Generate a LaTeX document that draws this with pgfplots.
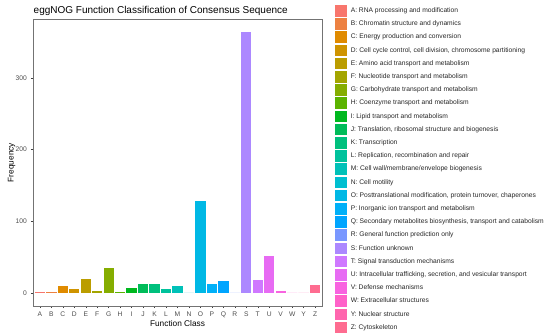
\documentclass[border=0pt]{standalone}
\usepackage{fontspec}
\setmainfont{Liberation Sans}
\usepackage{pgfplots}
\pgfplotsset{compat=1.18}
\definecolor{cA}{HTML}{F8766D}
\definecolor{cB}{HTML}{ED8141}
\definecolor{cC}{HTML}{E08B00}
\definecolor{cD}{HTML}{CF9400}
\definecolor{cE}{HTML}{BB9D00}
\definecolor{cF}{HTML}{A3A500}
\definecolor{cG}{HTML}{85AD00}
\definecolor{cH}{HTML}{5BB300}
\definecolor{cI}{HTML}{00B81F}
\definecolor{cJ}{HTML}{00BC59}
\definecolor{cK}{HTML}{00C07D}
\definecolor{cL}{HTML}{00C29C}
\definecolor{cM}{HTML}{00C1B8}
\definecolor{cN}{HTML}{00BFD0}
\definecolor{cO}{HTML}{00B8E5}
\definecolor{cP}{HTML}{00B0F8}
\definecolor{cQ}{HTML}{00A5FF}
\definecolor{cR}{HTML}{7997FF}
\definecolor{cS}{HTML}{AC88FF}
\definecolor{cT}{HTML}{CF78FF}
\definecolor{cU}{HTML}{E76BF3}
\definecolor{cV}{HTML}{F863E0}
\definecolor{cW}{HTML}{FF61C9}
\definecolor{cY}{HTML}{FF65AE}
\definecolor{cZ}{HTML}{FE6C90}
\definecolor{gtxt}{HTML}{4D4D4D}
\pgfplotsset{
  mybar/.style={ybar, bar width=0.9, bar shift=0pt, fill=#1, draw=none,
    legend image code/.code={\fill[fill=#1] (0pt,-5.8pt) rectangle (11.8pt,5.8pt);}}
}
\begin{document}
\begin{tikzpicture}
\path[use as bounding box] (0,0) rectangle (550pt,336pt);
\begin{axis}[
  at={(33pt,30pt)}, anchor=south west,
  scale only axis, width=289pt, height=287pt,
  xmin=-0.6, xmax=24.6, ymin=-18.2, ymax=382.2,
  enlargelimits=false,
  axis line style={draw=black!55, line width=0.6pt},
  xtick={0,...,24},
  xticklabels={A,B,C,D,E,F,G,H,I,J,K,L,M,N,O,P,Q,R,S,T,U,V,W,Y,Z},
  ytick={0,100,200,300},
  tick align=outside, xtick pos=bottom, ytick pos=left,
  major tick length=2.1pt,
  tick style={draw=black!75, line width=0.4pt},
  /pgf/number format/assume math mode=true,
  tick label style={font=\fontsize{6.7}{7}\selectfont, text=gtxt, inner sep=0pt},
  xticklabel style={anchor=north, yshift=-3.8pt},
  yticklabel style={anchor=east, xshift=-3.9pt},
  title={eggNOG Function Classification of Consensus Sequence},
  title style={at={(0,1)}, anchor=base west, yshift=-0.5pt, xshift=0.5pt, inner sep=0pt, font=\fontsize{10}{12}\selectfont},
  xlabel={Function Class},
  ylabel={Frequency},
  label style={font=\fontsize{8.3}{10}\selectfont},
  xlabel style={at={(axis description cs:0.5,-0.0603)}, anchor=center, inner sep=0pt},
  ylabel style={at={(axis description cs:-0.0737,0.5)}, anchor=center, inner sep=0pt},
  legend style={at={(1,1)}, anchor=north west, xshift=13pt, yshift=14pt,
    draw=none, fill=none, inner sep=0pt, outer sep=0pt,
    row sep=1.6pt, column sep=4pt,
    font=\fontsize{6.7}{8}\selectfont,
    nodes={inner sep=0pt, text=black!85}},
  legend cell align=left,
]
\addplot[mybar=cA] coordinates {(0,1)};
\addplot[mybar=cB] coordinates {(1,1)};
\addplot[mybar=cC] coordinates {(2,9)};
\addplot[mybar=cD] coordinates {(3,5)};
\addplot[mybar=cE] coordinates {(4,19)};
\addplot[mybar=cF] coordinates {(5,3)};
\addplot[mybar=cG] coordinates {(6,35)};
\addplot[mybar=cH] coordinates {(7,2)};
\addplot[mybar=cI] coordinates {(8,7)};
\addplot[mybar=cJ] coordinates {(9,13)};
\addplot[mybar=cK] coordinates {(10,13)};
\addplot[mybar=cL] coordinates {(11,6)};
\addplot[mybar=cM] coordinates {(12,9)};
\addplot[mybar=cN] coordinates {(13,0)};
\addplot[mybar=cO] coordinates {(14,128)};
\addplot[mybar=cP] coordinates {(15,13)};
\addplot[mybar=cQ] coordinates {(16,16)};
\addplot[mybar=cR] coordinates {(17,0)};
\addplot[mybar=cS] coordinates {(18,364)};
\addplot[mybar=cT] coordinates {(19,18)};
\addplot[mybar=cU] coordinates {(20,52)};
\addplot[mybar=cV] coordinates {(21,3)};
\addplot[mybar=cW] coordinates {(22,0)};
\addplot[mybar=cY] coordinates {(23,0)};
\addplot[mybar=cZ] coordinates {(24,11)};
\legend{
A: RNA processing and modification,
B: Chromatin structure and dynamics,
C: Energy production and conversion,
{D: Cell cycle control, cell division, chromosome partitioning},
E: Amino acid transport and metabolism,
F: Nucleotide transport and metabolism,
G: Carbohydrate transport and metabolism,
H: Coenzyme transport and metabolism,
I: Lipid transport and metabolism,
{J: Translation, ribosomal structure and biogenesis},
K: Transcription,
{L: Replication, recombination and repair},
M: Cell wall/membrane/envelope biogenesis,
N: Cell motility,
{O: Posttranslational modification, protein turnover, chaperones},
P: Inorganic ion transport and metabolism,
{Q: Secondary metabolites biosynthesis, transport and catabolism},
R: General function prediction only,
S: Function unknown,
T: Signal transduction mechanisms,
{U: Intracellular trafficking, secretion, and vesicular transport},
V: Defense mechanisms,
W: Extracellular structures,
Y: Nuclear structure,
Z: Cytoskeleton}
\end{axis}
\end{tikzpicture}
\end{document}
